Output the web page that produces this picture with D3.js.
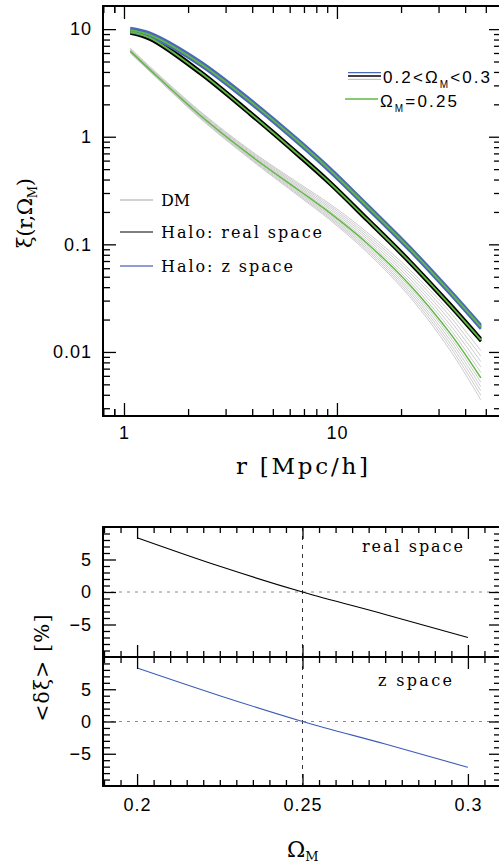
<!DOCTYPE html>
<html>
<head>
<meta charset="utf-8">
<script src="https://cdn.jsdelivr.net/npm/d3@7"></script>
<style>
  html, body { margin: 0; padding: 0; background: #fff; }
  svg { display: block; }
</style>
</head>
<body>
<svg id="chart" width="499" height="866"></svg>
<script>
// ---------- data ----------
// separations r [Mpc/h] at which the correlation functions are sampled
const rVals = [1.07, 1.33, 2.27, 3.9, 6.7, 9.27, 13.8, 22.0, 33.9, 47.4];

// Omega_M of each dark-matter curve
const omegaVals = [0.20, 0.21, 0.22, 0.23, 0.24, 0.25, 0.26, 0.27, 0.28, 0.29, 0.30];

// dark matter xi(r) for each Omega_M (rows follow omegaVals)
const dmXi = [
  [6.66, 4.44, 1.733, 0.753, 0.3637, 0.2372, 0.1303, 0.0579, 0.02357, 0.01025],
  [6.58, 4.38, 1.703, 0.737, 0.3530, 0.2283, 0.1243, 0.0543, 0.02154, 0.00913],
  [6.50, 4.32, 1.674, 0.721, 0.3425, 0.2197, 0.1186, 0.0509, 0.01969, 0.00813],
  [6.41, 4.27, 1.646, 0.707, 0.3324, 0.2113, 0.1132, 0.0477, 0.01800, 0.00725],
  [6.33, 4.21, 1.618, 0.691, 0.3226, 0.2034, 0.1080, 0.0448, 0.01645, 0.00645],
  [6.25, 4.16, 1.591, 0.677, 0.3131, 0.1957, 0.1030, 0.0420, 0.01504, 0.00575],
  [6.20, 4.12, 1.571, 0.665, 0.3052, 0.1900, 0.0991, 0.0399, 0.01398, 0.00523],
  [6.14, 4.09, 1.550, 0.654, 0.2975, 0.1843, 0.0954, 0.0379, 0.01300, 0.00476],
  [6.09, 4.05, 1.530, 0.643, 0.2899, 0.1789, 0.0918, 0.0360, 0.01209, 0.00434],
  [6.04, 4.02, 1.511, 0.632, 0.2826, 0.1736, 0.0883, 0.0342, 0.01124, 0.00395],
  [5.99, 3.99, 1.491, 0.621, 0.2754, 0.1685, 0.0850, 0.0325, 0.01045, 0.00359]
];

// halo xi(r), real space, for Omega_M = 0.20, 0.25, 0.30
const haloReal020 = [9.77, 8.54, 4.13, 1.718, 0.685, 0.3846, 0.1781, 0.0711, 0.02836, 0.01340];
const haloReal025 = [9.44, 8.25, 3.99, 1.660, 0.662, 0.3716, 0.1721, 0.0687, 0.02740, 0.01295];
const haloReal030 = [9.12, 7.97, 3.85, 1.604, 0.639, 0.3590, 0.1662, 0.0664, 0.02647, 0.01251];

// halo xi(s), redshift space, for Omega_M = 0.20, 0.25, 0.30
const haloZ020 = [10.22, 9.19, 5.04, 2.239, 0.912, 0.5123, 0.2373, 0.0947, 0.0377, 0.01785];
const haloZ025 = [9.79, 8.80, 4.83, 2.145, 0.874, 0.4907, 0.2273, 0.0907, 0.0361, 0.01710];
const haloZ030 = [9.38, 8.43, 4.63, 2.055, 0.837, 0.4701, 0.2178, 0.0869, 0.0346, 0.01638];

// mean relative deviation <delta xi> [%] versus Omega_M
const omegaGrid = [0.20, 0.225, 0.25, 0.275, 0.30];
const deltaReal = [8.35, 3.95, 0, -3.45, -7.0];
const deltaZ    = [8.3, 4.0, 0, -3.5, -7.1];

// tick labels
const xiTickVals = [0.01, 0.1, 1, 10];
const rTickVals = [1, 10];
const omegaTickVals = [0.2, 0.25, 0.3];
const deltaTickVals = [-5, 0, 5];

// ---------- styles ----------
const serif = "'DejaVu Serif', serif";
const sans = "'Liberation Sans', Arial, sans-serif";
const cBlue = "#4a69b9";
const cGreen = "#62b844";
const cGray = "#cbcbcb";

const svg = d3.select("#chart");

function styleTicks(g) {
  g.select(".domain").remove();
  g.selectAll(".tick line").attr("stroke", "#000").attr("stroke-width", 1.3);
  g.attr("font-family", sans).attr("font-size", 18);
  g.selectAll(".tick text").attr("fill", "#000").attr("letter-spacing", "1px");
}

function logMinors(lo, hi) {
  const out = [];
  for (let e = -4; e <= 3; e++) {
    for (let m = 2; m <= 9; m++) {
      const v = m * Math.pow(10, e);
      if (v > lo && v < hi) out.push(+v.toPrecision(3));
    }
  }
  return out;
}

// ---------- main panel: xi(r) ----------
const M = { left: 103, right: 500, top: 6, bottom: 416 };
const x = d3.scaleLog().domain([0.797, 58.3]).range([M.left, M.right]);
const y = d3.scaleLog().domain([0.00254, 16.4]).range([M.bottom, M.top]);

const xMinor = logMinors(0.797, 58.3).concat([0.9]);
const yMinor = logMinors(0.00254, 16.4);

const gMain = svg.append("g");

// curves
const line = d3.line()
  .x((d, i) => x(rVals[i]))
  .y(d => y(d))
  .curve(d3.curveCatmullRom.alpha(0.5));

gMain.append("g").selectAll("path")
  .data(dmXi.filter((d, i) => omegaVals[i] !== 0.25))
  .join("path")
  .attr("d", line)
  .attr("fill", "none")
  .attr("stroke", cGray)
  .attr("stroke-width", 1);

[haloReal020, haloReal030].forEach(s => {
  gMain.append("path").attr("d", line(s)).attr("fill", "none")
    .attr("stroke", "#000").attr("stroke-width", 2.6);
});
gMain.append("path").attr("d", line(haloReal025)).attr("fill", "none")
  .attr("stroke", "#000").attr("stroke-width", 3);

[haloZ020, haloZ030].forEach(s => {
  gMain.append("path").attr("d", line(s)).attr("fill", "none")
    .attr("stroke", cBlue).attr("stroke-width", 2.6);
});
gMain.append("path").attr("d", line(haloZ025)).attr("fill", "none")
  .attr("stroke", cBlue).attr("stroke-width", 3);

// Omega_M = 0.25 in green on top of each family
[dmXi[omegaVals.indexOf(0.25)], haloReal025, haloZ025].forEach((s, k) => {
  gMain.append("path").attr("d", line(s)).attr("fill", "none")
    .attr("stroke", cGreen).attr("stroke-width", k === 0 ? 1.5 : 1.8);
});

// axes
gMain.append("g").attr("transform", `translate(${M.left},0)`)
  .call(d3.axisLeft(y).tickValues(xiTickVals).tickSize(-13).tickPadding(11).tickFormat(d => String(d)))
  .call(styleTicks);
gMain.append("g").attr("transform", `translate(${M.left},0)`)
  .call(d3.axisLeft(y).tickValues(yMinor).tickSize(-7).tickFormat(""))
  .call(styleTicks);
gMain.append("g").attr("transform", `translate(${M.right},0)`)
  .call(d3.axisRight(y).tickValues(xiTickVals).tickSize(-11).tickFormat(""))
  .call(styleTicks);
gMain.append("g").attr("transform", `translate(${M.right},0)`)
  .call(d3.axisRight(y).tickValues(yMinor).tickSize(-6).tickFormat(""))
  .call(styleTicks);
gMain.append("g").attr("transform", `translate(0,${M.bottom})`)
  .call(d3.axisBottom(x).tickValues(rTickVals).tickSize(-13).tickPadding(10).tickFormat(d => String(d)))
  .call(styleTicks);
gMain.append("g").attr("transform", `translate(0,${M.bottom})`)
  .call(d3.axisBottom(x).tickValues(xMinor).tickSize(-7).tickFormat(""))
  .call(styleTicks);
gMain.append("g").attr("transform", `translate(0,${M.top})`)
  .call(d3.axisTop(x).tickValues(rTickVals).tickSize(-13).tickFormat(""))
  .call(styleTicks);
gMain.append("g").attr("transform", `translate(0,${M.top})`)
  .call(d3.axisTop(x).tickValues(xMinor).tickSize(-7).tickFormat(""))
  .call(styleTicks);

gMain.append("rect")
  .attr("x", M.left).attr("y", M.top)
  .attr("width", M.right - M.left).attr("height", M.bottom - M.top)
  .attr("fill", "none").attr("stroke", "#000").attr("stroke-width", 2);

// legend: samples
const leg = gMain.append("g").attr("font-family", serif).attr("font-size", 16).attr("fill", "#000");
const legItems = [
  { label: "DM", color: "#d2d2d2", w: 2.2, y: 200, len: null },
  { label: "Halo: real space", color: "#555", w: 1.4, y: 232, len: 161 },
  { label: "Halo: z space", color: "#6c7dc2", w: 1.4, y: 266, len: 132 }
];
legItems.forEach(it => {
  leg.append("line").attr("x1", 120).attr("x2", 153).attr("y1", it.y).attr("y2", it.y)
    .attr("stroke", it.color).attr("stroke-width", it.w);
  const t = leg.append("text").attr("x", 161).attr("y", it.y + 5.5).text(it.label);
  if (it.len) t.attr("textLength", it.len).attr("lengthAdjust", "spacing");
});

// legend: Omega_M range
const leg2 = gMain.append("g").attr("font-family", sans).attr("font-size", 17).attr("fill", "#000");
[[72.7, cBlue], [76, "#000"], [79.3, "#c4c4c4"]].forEach(([yy, c]) => {
  leg2.append("line").attr("x1", 348).attr("x2", 381).attr("y1", yy).attr("y2", yy)
    .attr("stroke", c).attr("stroke-width", 1.3);
});
const t1 = leg2.append("text").attr("x", 383).attr("y", 83)
  .attr("textLength", 107).attr("lengthAdjust", "spacing");
t1.append("tspan").text("0.2<Ω");
t1.append("tspan").attr("dy", 5).attr("font-size", 10).text("M");
t1.append("tspan").attr("dy", -5).text("<0.3");

leg2.append("line").attr("x1", 345).attr("x2", 378).attr("y1", 99).attr("y2", 99)
  .attr("stroke", cGreen).attr("stroke-width", 1.5);
const t2 = leg2.append("text").attr("x", 380).attr("y", 107)
  .attr("textLength", 77).attr("lengthAdjust", "spacing");
t2.append("tspan").text("Ω");
t2.append("tspan").attr("dy", 5).attr("font-size", 10).text("M");
t2.append("tspan").attr("dy", -5).text("=0.25");

// axis titles
svg.append("text").attr("x", 236).attr("y", 474)
  .attr("font-family", serif).attr("font-size", 23)
  .attr("textLength", 132).attr("lengthAdjust", "spacing")
  .text("r [Mpc/h]");

const yt = svg.append("text")
  .attr("transform", "translate(32,213) rotate(-90)")
  .attr("text-anchor", "middle")
  .attr("font-family", serif).attr("font-size", 21)
  .attr("textLength", 70).attr("lengthAdjust", "spacing");
yt.append("tspan").text("ξ(r,Ω");
yt.append("tspan").attr("dy", 5).attr("font-size", 12).text("M");
yt.append("tspan").attr("dy", -5).text(")");

// ---------- lower panels: <delta xi> vs Omega_M ----------
const om = d3.scaleLinear().domain([0.1897, 0.3097]).range([103, 500]);
const panels = [
  { top: 527, bottom: 657, data: deltaReal, color: "#000", label: "real space", lx: 362, ly: 552, llen: 101, xLabels: false },
  { top: 657, bottom: 786, data: deltaZ, color: "#3e5cb8", label: "z space", lx: 378, ly: 686, llen: 74, xLabels: true }
];

const omMinor = d3.range(0.19, 0.3075, 0.005).map(v => +v.toFixed(3))
  .filter(v => !omegaTickVals.includes(v));
const dMinor = d3.range(-9, 10).filter(v => !deltaTickVals.includes(v));

panels.forEach(p => {
  const yy = d3.scaleLinear().domain([-10, 10]).range([p.bottom, p.top]);
  const g = svg.append("g");

  // reference lines
  g.append("line").attr("x1", om.range()[0]).attr("x2", om.range()[1])
    .attr("y1", yy(0)).attr("y2", yy(0))
    .attr("stroke", "#8a8a8a").attr("stroke-width", 1).attr("stroke-dasharray", "3,5");
  g.append("line").attr("x1", om(0.25)).attr("x2", om(0.25))
    .attr("y1", p.top).attr("y2", p.bottom)
    .attr("stroke", "#333").attr("stroke-width", 1).attr("stroke-dasharray", "4,5");

  const ln = d3.line().x((d, i) => om(omegaGrid[i])).y(d => yy(d)).curve(d3.curveMonotoneX);
  g.append("path").attr("d", ln(p.data)).attr("fill", "none")
    .attr("stroke", p.color).attr("stroke-width", 1.1);

  // y axes
  g.append("g").attr("transform", "translate(103,0)")
    .call(d3.axisLeft(yy).tickValues(deltaTickVals).tickSize(-13).tickPadding(11)
      .tickFormat(d => d < 0 ? "−" + Math.abs(d) : String(d)))
    .call(styleTicks);
  g.append("g").attr("transform", "translate(103,0)")
    .call(d3.axisLeft(yy).tickValues(dMinor).tickSize(-7).tickFormat(""))
    .call(styleTicks);
  g.append("g").attr("transform", "translate(500,0)")
    .call(d3.axisRight(yy).tickValues(deltaTickVals).tickSize(-11).tickFormat(""))
    .call(styleTicks);
  g.append("g").attr("transform", "translate(500,0)")
    .call(d3.axisRight(yy).tickValues(dMinor).tickSize(-6).tickFormat(""))
    .call(styleTicks);

  // x axes
  g.append("g").attr("transform", `translate(0,${p.top})`)
    .call(d3.axisTop(om).tickValues(omegaTickVals).tickSize(-12).tickFormat(""))
    .call(styleTicks);
  g.append("g").attr("transform", `translate(0,${p.top})`)
    .call(d3.axisTop(om).tickValues(omMinor).tickSize(-6).tickFormat(""))
    .call(styleTicks);
  g.append("g").attr("transform", `translate(0,${p.bottom})`)
    .call(d3.axisBottom(om).tickValues(omegaTickVals).tickSize(-12).tickPadding(12)
      .tickFormat(d => p.xLabels ? String(d) : ""))
    .call(styleTicks);
  g.append("g").attr("transform", `translate(0,${p.bottom})`)
    .call(d3.axisBottom(om).tickValues(omMinor).tickSize(-6).tickFormat(""))
    .call(styleTicks);

  g.append("rect").attr("x", 103).attr("y", p.top)
    .attr("width", 397).attr("height", p.bottom - p.top)
    .attr("fill", "none").attr("stroke", "#000").attr("stroke-width", 2);

  g.append("text").attr("x", p.lx).attr("y", p.ly)
    .attr("font-family", serif).attr("font-size", 16)
    .attr("textLength", p.llen).attr("lengthAdjust", "spacing")
    .text(p.label);
});

// lower axis titles
svg.append("text")
  .attr("transform", "translate(49,668) rotate(-90)")
  .attr("text-anchor", "middle")
  .attr("font-family", serif).attr("font-size", 20)
  .attr("textLength", 107).attr("lengthAdjust", "spacing")
  .text("<δξ> [%]");

const ox = svg.append("text").attr("x", 287).attr("y", 857)
  .attr("font-family", serif).attr("font-size", 22);
ox.append("tspan").text("Ω");
ox.append("tspan").attr("dy", 4).attr("font-size", 13).text("M");
</script>
</body>
</html>
